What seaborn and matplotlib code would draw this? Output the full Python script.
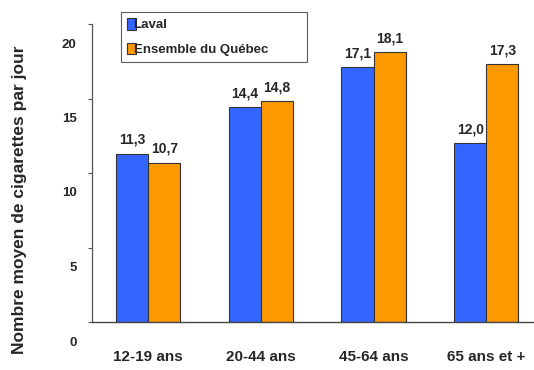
import matplotlib
matplotlib.use("Agg")
import matplotlib.pyplot as plt
import matplotlib.transforms as mtransforms
import seaborn as sns
import pandas as pd

categories = ["12-19 ans", "20-44 ans", "45-64 ans", "65 ans et +"]
laval = [11.3, 14.4, 17.1, 12.0]
quebec = [10.7, 14.8, 18.1, 17.3]
series = ["Laval", "Ensemble du Québec"]
colors = ["#3366FF", "#FF9900"]

df = pd.DataFrame({
    "cat": categories * 2,
    "val": laval + quebec,
    "serie": [series[0]] * 4 + [series[1]] * 4,
})

sns.set_style("white")
plt.rcParams["font.family"] = ["Liberation Sans", "DejaVu Sans"]
plt.rcParams["font.weight"] = "bold"

fig = plt.figure(figsize=(5.34, 3.70), dpi=100)
ax = fig.add_axes([92 / 534, 48 / 370, 450.5 / 534, 298 / 370])

sns.barplot(data=df, x="cat", y="val", hue="serie", palette=colors,
            width=0.57, gap=0, edgecolor="#333333", linewidth=0.8,
            saturation=1, ax=ax)

ax.set_xlim(-0.5, 3.5)
ax.set_ylim(0, 20)
ax.set_yticks([0, 5, 10, 15, 20])
ax.set_yticklabels(["0", "5", "10", "15", "20"], fontsize=9.5, fontweight="bold")
ax.tick_params(axis="y", direction="out", length=3, width=0.8, pad=8,
               left=True, color="#555555")
ax.tick_params(axis="x", length=0, pad=20, labelsize=11)
for lbl in ax.get_xticklabels():
    lbl.set_fontweight("bold")
# tick labels sit lower than their tick marks in the original
off = mtransforms.ScaledTranslation(0, -0.19, fig.dpi_scale_trans)
for lbl in ax.get_yticklabels():
    lbl.set_transform(lbl.get_transform() + off)

ax.set_xlabel("")
ax.set_ylabel("")
for s in ["top", "right"]:
    ax.spines[s].set_visible(False)
ax.spines["left"].set_color("#555555")
ax.spines["left"].set_linewidth(0.9)
ax.spines["bottom"].set_color("#444444")
ax.spines["bottom"].set_linewidth(1.0)

for cont, vals in zip(ax.containers, [laval, quebec]):
    ax.bar_label(cont, labels=[f"{v:.1f}".replace(".", ",") for v in vals],
                 padding=5, fontsize=10, fontweight="bold")

fig.text(20 / 534, 1 - 200 / 370, "Nombre moyen de cigarettes par jour",
         rotation=90, ha="center", va="center", fontsize=12.5, fontweight="bold")

leg = ax.legend(loc="upper left",
                bbox_to_anchor=(121 / 534, 1 - 62 / 370, 186 / 534, 50 / 370),
                bbox_transform=fig.transFigure, mode="expand",
                frameon=True, fancybox=False,
                fontsize=9.5, handlelength=0.7, handleheight=1.0,
                handletextpad=-0.2, borderpad=0.45, labelspacing=0.85,
                borderaxespad=0)
leg.get_frame().set_edgecolor("#333333")
leg.get_frame().set_linewidth(0.8)
for t in leg.get_texts():
    t.set_fontweight("bold")

fig.savefig("out.png", dpi=100)
